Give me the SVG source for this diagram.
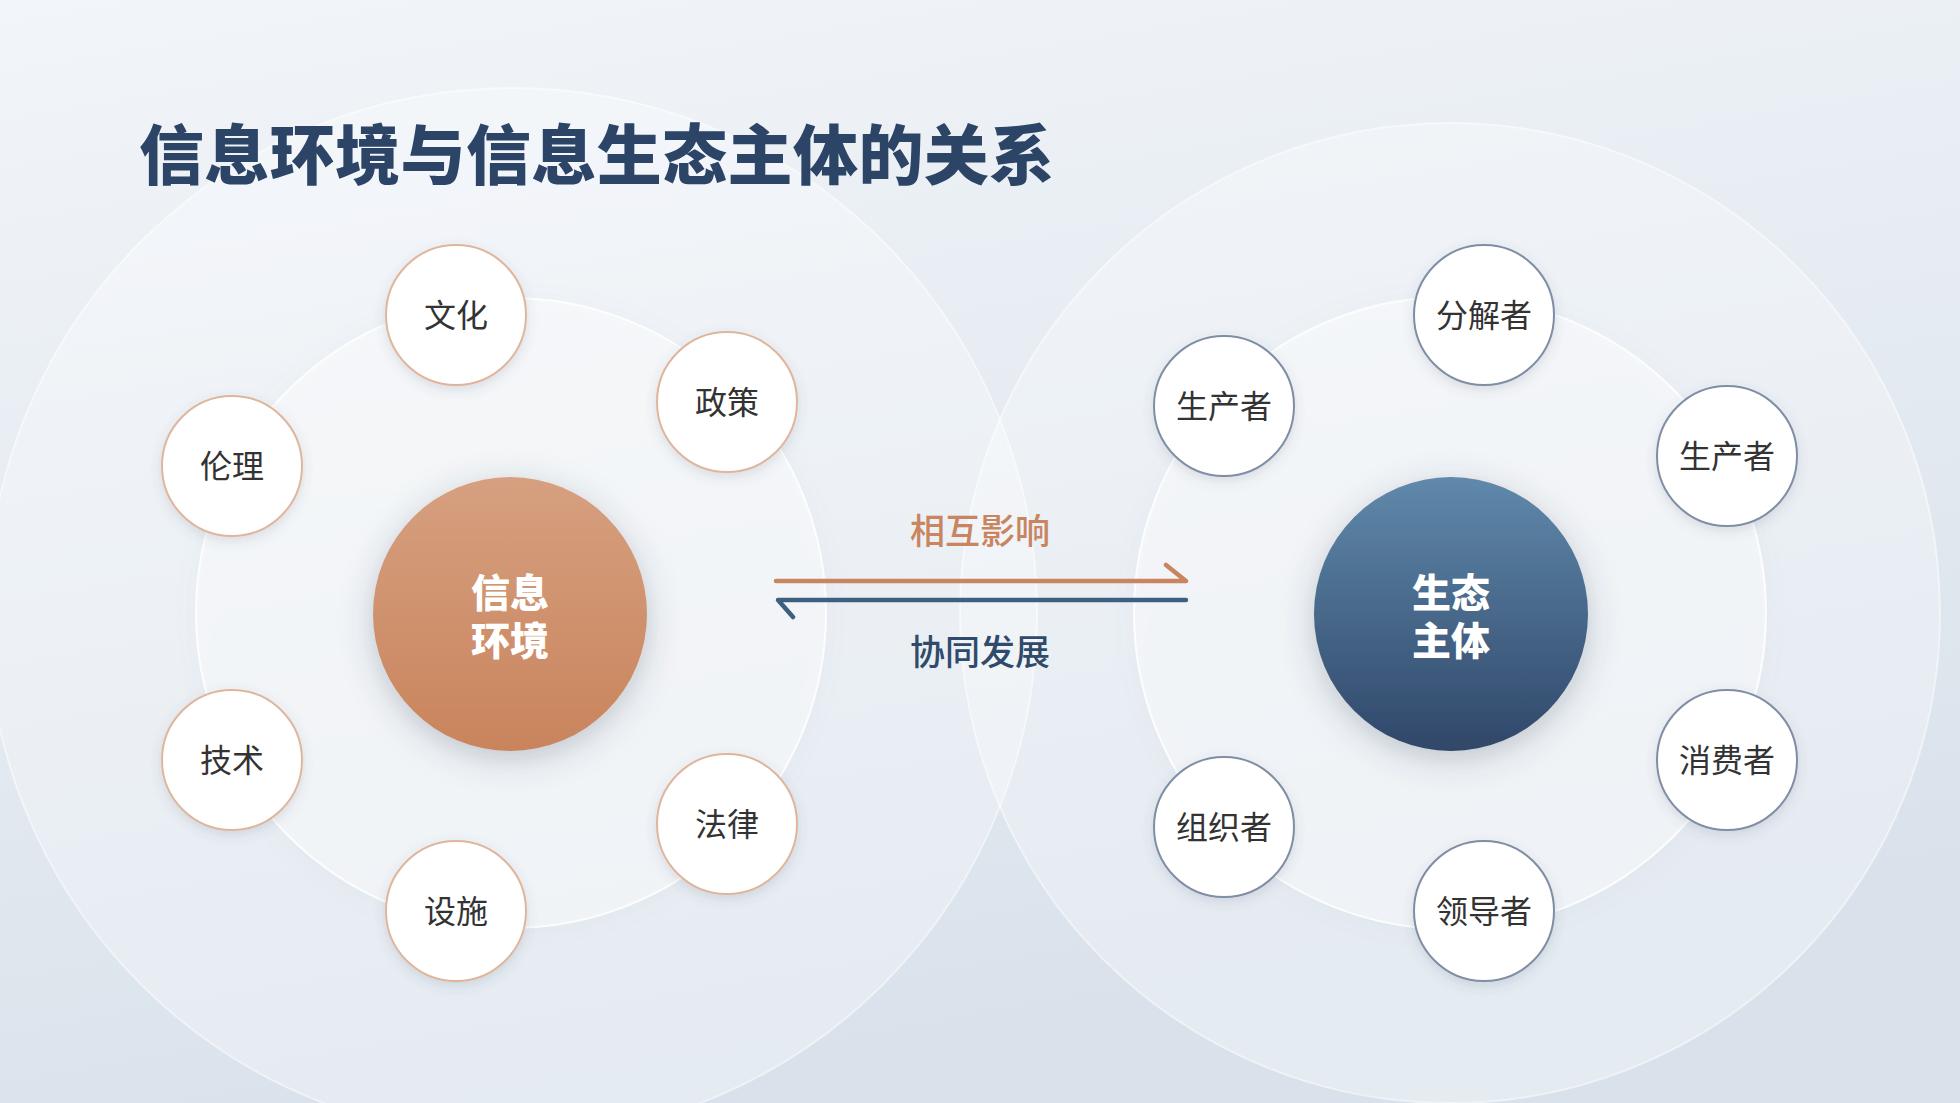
<svg xmlns="http://www.w3.org/2000/svg" width="1960" height="1103" viewBox="0 0 1960 1103">
<defs>
<linearGradient id="bg" x1="0" y1="0" x2="0.3" y2="1">
<stop offset="0" stop-color="#f2f5f9"/>
<stop offset="1" stop-color="#d9e2eb"/>
</linearGradient>
<linearGradient id="gO" x1="0" y1="0" x2="0" y2="1">
<stop offset="0" stop-color="#d6a080"/>
<stop offset="1" stop-color="#c9845c"/>
</linearGradient>
<linearGradient id="gB" x1="0" y1="0" x2="0" y2="1">
<stop offset="0" stop-color="#6089ab"/>
<stop offset="1" stop-color="#2f4769"/>
</linearGradient>
<filter id="sh" x="-30%" y="-30%" width="160%" height="160%">
<feDropShadow dx="0" dy="4" stdDeviation="6" flood-color="#4a5a70" flood-opacity="0.16"/>
</filter>
<filter id="shC" x="-40%" y="-40%" width="180%" height="180%">
<feDropShadow dx="0" dy="8" stdDeviation="16" flood-color="#3a4a60" flood-opacity="0.28"/>
</filter>
<filter id="shR" x="-20%" y="-20%" width="140%" height="140%">
<feDropShadow dx="0" dy="2" stdDeviation="10" flood-color="#8090a8" flood-opacity="0.12"/>
</filter>
</defs>
<style>
.ring1{fill:#ffffff;fill-opacity:0.3;stroke:#ffffff;stroke-opacity:0.5;stroke-width:2}
.ring2{fill:#ffffff;fill-opacity:0.45;stroke:#ffffff;stroke-opacity:0.85;stroke-width:2}
.satO{fill:#ffffff;stroke:#dfb69c;stroke-width:2}
.satB{fill:#ffffff;stroke:#7f8ea5;stroke-width:2}
.st{font-family:"Noto Sans CJK SC","Noto Sans",sans-serif;font-size:32px;fill:#333333;text-anchor:middle}
.ct{font-family:"Noto Sans CJK SC","Noto Sans",sans-serif;font-size:39px;font-weight:900;fill:#ffffff;text-anchor:middle}
.lab{font-family:"Noto Sans CJK SC","Noto Sans",sans-serif;font-size:35px;font-weight:500;text-anchor:middle}
.ln{fill:none;stroke-width:4.5;stroke-linecap:round;stroke-linejoin:round}
</style>
<rect x="0" y="0" width="1960" height="1103" fill="url(#bg)"/>
<g id="rings">
<circle class="ring1" cx="512" cy="613" r="525"/>
<circle class="ring1" cx="1450" cy="613" r="490"/>
<circle class="ring2" cx="511" cy="613" r="315" filter="url(#shR)"/>
<circle class="ring2" cx="1450" cy="613" r="316" filter="url(#shR)"/>
</g>
<text x="139" y="179" font-family="Noto Sans CJK SC, Noto Sans, sans-serif" font-size="65" font-weight="900" letter-spacing="0.4" fill="#2c4466">信息环境与信息生态主体的关系</text>
<g id="connectors">
<path class="ln" stroke="#c98560" d="M776 581 L1186 581 L1166 565"/>
<path class="ln" stroke="#3e5f80" d="M1186 600 L778 600 L793 617"/>
<text class="lab" x="980" y="544" fill="#c98560">相互影响</text>
<text class="lab" x="980" y="665" fill="#2f4a6b">协同发展</text>
</g>
<g id="env">
<circle cx="510" cy="614" r="137" fill="url(#gO)" filter="url(#shC)"/>
<text class="ct"><tspan x="510" y="607">信息</tspan><tspan x="510" y="655">环境</tspan></text>
</g>
<g id="subject">
<circle cx="1451" cy="614" r="137" fill="url(#gB)" filter="url(#shC)"/>
<text class="ct"><tspan x="1451" y="607">生态</tspan><tspan x="1451" y="655">主体</tspan></text>
</g>
<g id="n-wenhua"><circle class="satO" cx="456" cy="315" r="70" filter="url(#sh)"/><text class="st" x="456" y="327">文化</text></g>
<g id="n-zhengce"><circle class="satO" cx="727" cy="402" r="70" filter="url(#sh)"/><text class="st" x="727" y="414">政策</text></g>
<g id="n-lunli"><circle class="satO" cx="232" cy="466" r="70" filter="url(#sh)"/><text class="st" x="232" y="478">伦理</text></g>
<g id="n-jishu"><circle class="satO" cx="232" cy="760" r="70" filter="url(#sh)"/><text class="st" x="232" y="772">技术</text></g>
<g id="n-sheshi"><circle class="satO" cx="456" cy="911" r="70" filter="url(#sh)"/><text class="st" x="456" y="923">设施</text></g>
<g id="n-falv"><circle class="satO" cx="727" cy="824" r="70" filter="url(#sh)"/><text class="st" x="727" y="836">法律</text></g>
<g id="n-fenjie"><circle class="satB" cx="1484" cy="315" r="70" filter="url(#sh)"/><text class="st" x="1484" y="327">分解者</text></g>
<g id="n-shengchan1"><circle class="satB" cx="1224" cy="406" r="70" filter="url(#sh)"/><text class="st" x="1224" y="418">生产者</text></g>
<g id="n-shengchan2"><circle class="satB" cx="1727" cy="456" r="70" filter="url(#sh)"/><text class="st" x="1727" y="468">生产者</text></g>
<g id="n-xiaofei"><circle class="satB" cx="1727" cy="760" r="70" filter="url(#sh)"/><text class="st" x="1727" y="772">消费者</text></g>
<g id="n-zuzhi"><circle class="satB" cx="1224" cy="827" r="70" filter="url(#sh)"/><text class="st" x="1224" y="839">组织者</text></g>
<g id="n-lingdao"><circle class="satB" cx="1484" cy="911" r="70" filter="url(#sh)"/><text class="st" x="1484" y="923">领导者</text></g>
</svg>
